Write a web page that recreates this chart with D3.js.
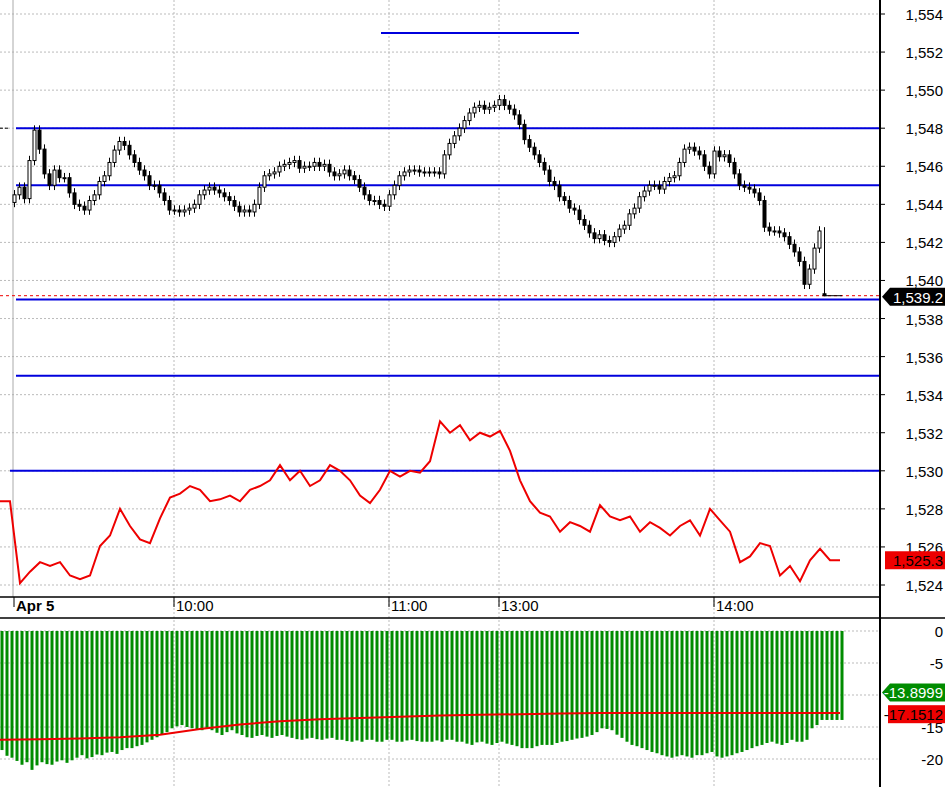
<!DOCTYPE html>
<html>
<head>
<meta charset="utf-8">
<script src="https://cdn.jsdelivr.net/npm/d3@7"></script>
<style>
body{margin:0;background:#fff;}
text{font-family:"Liberation Sans",Arial,sans-serif;}
</style>
</head>
<body>
<svg id="chart" width="945" height="787"></svg>
<script>
// candle closes, one bar every 5px
var closes = [
 1544.5,1544.9,1544.3,1546.3,1547.9,1546.9,1545.6,1545.0,1545.8,1545.4,
 1545.4,1544.6,1544.0,1543.9,1543.7,1544.2,1544.5,1545.2,1545.5,1546.2,
 1546.85,1547.3,1547.1,1546.6,1546.2,1545.8,1545.5,1545.0,1545.0,1544.6,
 1544.2,1543.7,1543.7,1543.6,1543.7,1543.8,1544.0,1544.5,1544.75,1544.9,
 1544.75,1544.6,1544.4,1544.2,1543.9,1543.6,1543.7,1543.6,1544.0,1544.9,
 1545.5,1545.6,1545.7,1546.0,1546.1,1546.2,1546.3,1545.9,1546.0,1546.0,
 1546.2,1546.0,1546.1,1545.7,1545.5,1545.6,1545.8,1545.5,1545.3,1544.9,
 1544.5,1544.2,1544.2,1544.0,1543.9,1544.5,1545.0,1545.5,1545.7,1545.8,
 1545.8,1545.7,1545.7,1545.7,1545.7,1545.6,1546.6,1547.2,1547.6,1548.0,
 1548.4,1548.8,1549.1,1549.2,1549.0,1549.1,1549.2,1549.5,1549.2,1549.0,
 1548.7,1548.2,1547.4,1547.0,1546.6,1546.2,1545.8,1545.2,1545.0,1544.4,
 1544.2,1543.8,1543.7,1543.2,1542.9,1542.5,1542.2,1542.4,1542.1,1542.0,
 1542.3,1542.7,1542.9,1543.5,1543.8,1544.4,1544.7,1545.0,1545.0,1544.8,
 1545.2,1545.4,1545.5,1546.2,1546.9,1547.0,1546.8,1546.6,1546.0,1545.6,
 1546.8,1546.5,1546.6,1546.2,1545.6,1545.0,1544.9,1544.8,1544.6,1544.2,
 1542.8,1542.6,1542.6,1542.5,1542.3,1541.9,1541.5,1541.0,1539.8,1540.6,
 1541.7,1542.6,1539.2
];
var firstOpen = 1544.1;
// bars whose open is not the previous close: [index, open, high]
var openFix = [[162, 1539.3, 1542.8]];

// red line in price pane, one point every 10px
var redLine = [
 1528.4,1528.4,1524.1,1524.7,1525.2,1525.0,1525.2,1524.5,1524.3,1524.5,
 1526.05,1526.6,1528.0,1527.1,1526.4,1526.2,1527.5,1528.6,1528.8,1529.2,
 1529.0,1528.4,1528.5,1528.7,1528.4,1529.0,1529.2,1529.5,1530.3,1529.5,
 1530.0,1529.2,1529.5,1530.3,1530.0,1529.5,1528.7,1528.3,1529.0,1530.0,
 1529.7,1530.0,1529.9,1530.5,1532.6,1532.0,1532.4,1531.6,1532.0,1531.8,
 1532.1,1531.05,1529.5,1528.4,1527.8,1527.6,1526.8,1527.3,1527.1,1526.8,
 1528.2,1527.6,1527.4,1527.6,1526.8,1527.3,1527.0,1526.6,1527.1,1527.4,
 1526.6,1528.0,1527.4,1526.8,1525.2,1525.5,1526.2,1526.05,1524.5,1525.0,
 1524.2,1525.3,1525.9,1525.3,1525.3
];

// horizontal levels: [price, startBar, endBar]
var levels = [
 [1553, 73, 113], [1548, 0, 173], [1545, 0, 173],
 [1539, 0, 173], [1535, 0, 173], [1530, -1, 173]
];

var histVals = [
 -18.6,-19.5,-19.8,-20.3,-20.9,-20.5,-21.7,-21.0,-20.5,-20.8,
 -20.9,-20.4,-20.2,-20.6,-20.2,-19.8,-19.4,-19.9,-19.7,-19.3,
 -19.4,-19.0,-18.9,-19.2,-18.6,-18.3,-18.3,-18.0,-17.8,-17.4,
 -17.0,-16.6,-16.25,-15.8,-15.2,-14.9,-14.7,-15.0,-15.2,-15.4,
 -15.5,-15.3,-15.5,-15.9,-16.25,-15.8,-15.5,-16.0,-16.25,-16.6,
 -16.7,-16.4,-16.25,-16.5,-16.7,-16.4,-16.25,-16.5,-16.7,-16.9,
 -17.0,-16.8,-16.7,-16.9,-17.0,-16.8,-16.7,-17.0,-17.0,-17.2,
 -17.3,-17.1,-17.3,-17.0,-17.0,-17.3,-17.3,-17.0,-17.0,-17.3,
 -17.3,-17.1,-17.0,-17.2,-17.3,-17.3,-17.3,-17.1,-17.3,-17.0,
 -17.0,-17.3,-17.3,-17.6,-17.8,-17.4,-17.3,-17.6,-17.8,-17.5,
 -17.3,-17.6,-17.8,-18.0,-18.3,-18.3,-18.3,-18.0,-17.8,-17.8,
 -17.8,-17.5,-17.3,-17.2,-17.0,-16.8,-16.7,-16.5,-16.25,-15.8,
 -15.2,-15.3,-15.5,-16.2,-16.7,-17.3,-17.8,-18.0,-18.3,-18.6,
 -18.9,-19.1,-19.4,-19.6,-19.8,-19.6,-19.4,-19.6,-19.8,-19.4,
 -19.4,-19.1,-18.9,-19.6,-19.8,-19.6,-19.4,-19.1,-18.9,-18.6,
 -18.3,-18.0,-17.8,-17.5,-17.3,-17.6,-17.8,-17.5,-17.0,-17.3,
 -17.3,-17.0,-15.2,-14.7,-13.9,-13.9,-13.9,-13.9,-13.9
];
var histLine = [-17.0,-16.9,-16.8,-16.6,-16.2,-15.3,-14.6,-14.1,-13.8,-13.6,-13.4,
 -13.2,-13.1,-13.0,-12.9,-12.8,-12.8,-12.8,-12.8,-12.8,-12.8,-12.8];

var priceTicks = d3.range(1524, 1555, 2);
var histTicks = [0, -5, -10, -15, -20];
var timeTicks = [["Apr 5", 0], ["10:00", 32], ["11:00", 75], ["13:00", 97], ["14:00", 140]];
var lastPrice = "1,539.2", lastRed = "1,525.3", lastHist = "-13.8999", lastHistLine = "-17.1512";

var svg = d3.select("#chart");
var W = 880;
var x = d3.scaleLinear().domain([0, 1]).range([14, 19]);
var y = d3.scaleLinear().domain([1554, 1524]).range([14, 585]);
var yb = d3.scaleLinear().domain([0, -20]).range([631, 759]);
var fmt = d3.format(",");

// grid
svg.selectAll(".hg").data(priceTicks).enter().append("line")
  .attr("x1", 0).attr("x2", W).attr("y1", d => y(d)).attr("y2", d => y(d))
  .attr("stroke", "#bbb").attr("stroke-dasharray", "2,2");
svg.selectAll(".hb").data(histTicks).enter().append("line")
  .attr("x1", 0).attr("x2", W).attr("y1", d => yb(d)).attr("y2", d => yb(d))
  .attr("stroke", "#bbb").attr("stroke-dasharray", "2,2");
svg.selectAll(".vg").data(timeTicks.slice(1)).enter().append("line")
  .attr("x1", d => x(d[1])).attr("x2", d => x(d[1])).attr("y1", 0).attr("y2", 787)
  .attr("stroke", "#bbb").attr("stroke-dasharray", "2,2");
svg.append("line").attr("x1", x(0) - 1).attr("x2", x(0) - 1).attr("y1", 0).attr("y2", 597)
  .attr("stroke", "#aaa");

// levels
svg.selectAll(".lv").data(levels).enter().append("line")
  .attr("x1", d => d[1] < 0 ? 10 : x(d[1]) + 2).attr("x2", d => d[2] >= 173 ? W : x(d[2]))
  .attr("y1", d => y(d[0])).attr("y2", d => y(d[0]))
  .attr("stroke", "#0000dd").attr("stroke-width", 2);
svg.append("line").attr("x1", 0).attr("x2", 10).attr("y1", y(1548)).attr("y2", y(1548))
  .attr("stroke", "#000").attr("stroke-dasharray", "3,2");
svg.append("line").attr("x1", 0).attr("x2", W).attr("y1", y(1539.2)).attr("y2", y(1539.2))
  .attr("stroke", "#e00").attr("stroke-dasharray", "3,3");

// red line
var xr = d3.scaleLinear().domain([0, 1]).range([0, 10]);
svg.append("path").datum(redLine)
  .attr("d", d3.line().x((d, i) => xr(i)).y(d => y(d)))
  .attr("fill", "none").attr("stroke", "#ee0000").attr("stroke-width", 2);

// candles
var fixes = new Map(openFix.map(f => [f[0], f]));
var bars = closes.map(function(c, i){
  var o = i ? closes[i - 1] : firstOpen;
  var f = fixes.get(i);
  if (f) return {i: i, o: f[1], c: c, h: f[2], l: Math.min(f[1], c)};
  return {i: i, o: o, c: c, h: Math.max(o, c) + 0.25, l: Math.min(o, c) - 0.25};
});
var g = svg.append("g");
g.selectAll(".wk").data(bars).enter().append("line")
  .attr("x1", d => x(d.i) + 0.5).attr("x2", d => x(d.i) + 0.5)
  .attr("y1", d => y(d.h)).attr("y2", d => y(d.l)).attr("stroke", "#000");
g.selectAll(".bd").data(bars).enter().append("rect")
  .attr("x", d => x(d.i) - 1).attr("width", 3)
  .attr("y", d => y(Math.max(d.o, d.c)))
  .attr("height", d => Math.max(1, Math.abs(y(d.o) - y(d.c))))
  .attr("fill", d => d.c >= d.o ? "#fff" : "#000").attr("stroke", "#000").attr("stroke-width", 1);
svg.append("line").attr("x1", x(closes.length - 1)).attr("x2", 842)
  .attr("y1", y(1539.2)).attr("y2", y(1539.2)).attr("stroke", "#000");

// histogram
var xh = d3.scaleLinear().domain([0, 1]).range([2, 7]);
svg.selectAll(".hist").data(histVals).enter().append("rect")
  .attr("x", (d, i) => xh(i) - 1.5).attr("width", 3)
  .attr("y", yb(0)).attr("height", d => yb(d) - yb(0)).attr("fill", "#008c00");
var xhl = d3.scaleLinear().domain([0, 1]).range([0, 40]);
svg.append("path").datum(histLine)
  .attr("d", d3.line().x((d, i) => xhl(i)).y(d => yb(d)))
  .attr("fill", "none").attr("stroke", "#ee0000").attr("stroke-width", 2);

// frames
svg.append("line").attr("x1", W).attr("x2", W).attr("y1", 0).attr("y2", 787).attr("stroke", "#000").attr("stroke-width", 2);
svg.append("line").attr("x1", 0).attr("x2", W).attr("y1", 597).attr("y2", 597).attr("stroke", "#000").attr("stroke-width", 1.5);
svg.append("line").attr("x1", 0).attr("x2", 945).attr("y1", 618).attr("y2", 618).attr("stroke", "#000").attr("stroke-width", 1.5);

// axis labels
svg.selectAll(".pt").data(priceTicks).enter().append("text")
  .attr("x", 943).attr("y", d => y(d) + 6).attr("text-anchor", "end")
  .attr("font-size", 15).text(d => fmt(d));
svg.selectAll(".ptk").data(priceTicks).enter().append("line")
  .attr("x1", W).attr("x2", W + 5).attr("y1", d => y(d)).attr("y2", d => y(d)).attr("stroke", "#000");
svg.selectAll(".bt").data(histTicks).enter().append("text")
  .attr("x", 943).attr("y", d => yb(d) + 6).attr("text-anchor", "end")
  .attr("font-size", 15).text(d => d);
svg.selectAll(".tt").data(timeTicks).enter().append("text")
  .attr("x", d => x(d[1]) + 2).attr("y", 611).attr("font-size", 15)
  .attr("font-weight", (d, i) => i ? "normal" : "bold").text(d => d[0]);
svg.selectAll(".ttk").data(timeTicks).enter().append("line")
  .attr("x1", d => x(d[1])).attr("x2", d => x(d[1])).attr("y1", 597).attr("y2", 607).attr("stroke", "#000");

// value tags
function tag(yy, txt, bg, fg, arrow, x0){
  var gg = svg.append("g");
  if (arrow) gg.append("path").attr("d", "M" + (x0 - 8) + "," + yy + "L" + x0 + "," + (yy - 9) + "L945," + (yy - 9) + "L945," + (yy + 9) + "L" + x0 + "," + (yy + 9) + "Z").attr("fill", bg);
  else gg.append("rect").attr("x", x0).attr("y", yy - 9).attr("width", 945 - x0).attr("height", 18).attr("fill", bg);
  gg.append("text").attr("x", 943).attr("y", yy + 6).attr("text-anchor", "end").attr("font-size", 15).attr("fill", fg).text(txt);
}
tag(y(1539.2) + 1, lastPrice, "#000", "#fff", true, 890);
tag(y(1525.3), lastRed, "#ee0000", "#000", false, 885);
tag(yb(-9.6), lastHist, "#008c00", "#fff", true, 890);
tag(yb(-13.0), lastHistLine, "#ee0000", "#000", false, 888);
</script>
</body>
</html>
